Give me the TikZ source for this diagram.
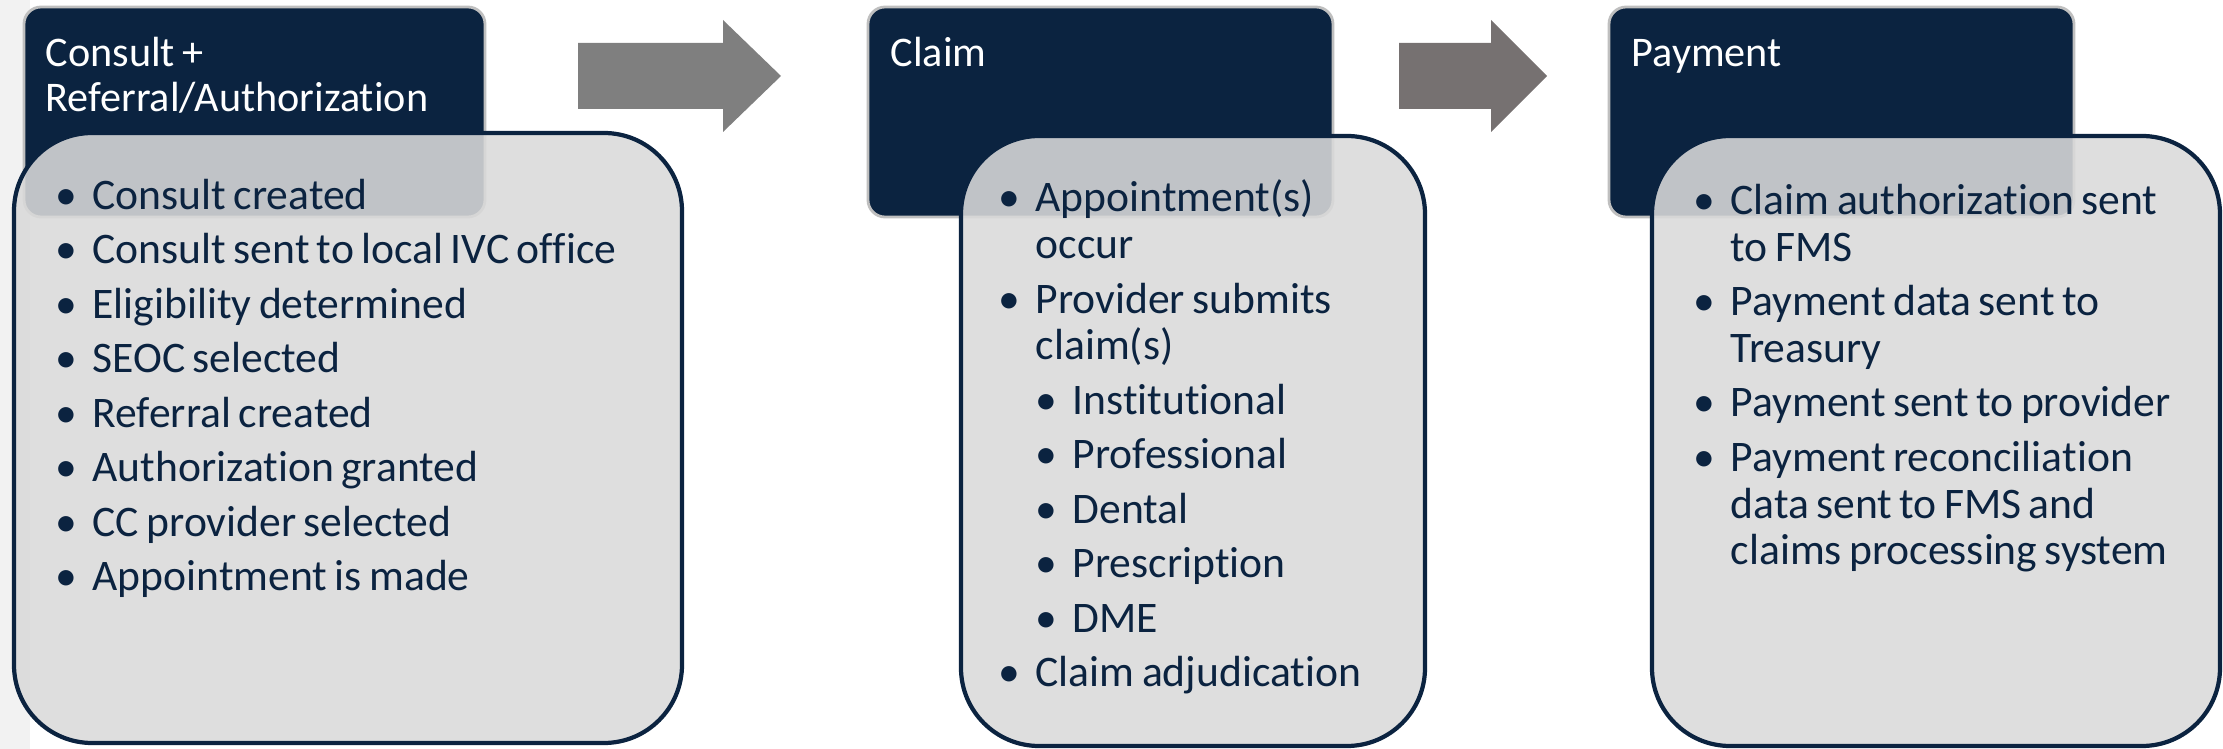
\documentclass[tikz,border=0pt]{standalone}
\usepackage{fontspec}
\setmainfont{Carlito}[WordSpace=0.75, Ligatures=NoCommon]
\usepackage{xcolor}
\usepackage{tikz}

\definecolor{navy}{RGB}{11,35,64}
\definecolor{boxgray}{RGB}{218,218,218}
\definecolor{rimgray}{RGB}{191,191,191}
\definecolor{arrowgray}{RGB}{127,127,127}
\definecolor{arrowwarm}{RGB}{118,113,113}
\definecolor{stripgray}{RGB}{242,242,242}

\newcommand{\bul}{\makebox[0.37cm][l]{\textbullet}}
\newcommand{\subbul}{\hspace*{0.37cm}\makebox[0.37cm][l]{\textbullet}}
\newcommand{\wrapind}{\hspace*{0.37cm}}
\newcommand{\gap}{2.2pt}

\begin{document}
\begin{tikzpicture}[x=0.01cm, y=-0.01cm,
		head/.style={fill=navy, draw=rimgray, line width=0.8pt, rounded corners=0.17cm},
		body/.style={fill=boxgray, fill opacity=0.88, draw=navy, draw opacity=1, line width=1.2pt, rounded corners=0.78cm},
		title/.style={anchor=base west, align=left, inner sep=0pt, text=white, font=\fontsize{12pt}{12.8pt}\selectfont},
		items/.style={anchor=base west, align=left, inner sep=0pt, text=navy, font=\fontsize{12.4pt}{13.3pt}\selectfont}]
	    \useasboundingbox (0,0) rectangle (2223,749);
	    \fill[stripgray] (0,0) rectangle (30,749);
	    \foreach \xa/\xb in {24/485, 868/1333, 1609/2074} {
	      \draw[head] (\xa,7) rectangle (\xb,217);
	    }
	    \fill[arrowgray] (578,43) -- (723,43) -- (723,20) -- (781,76) -- (723,132) -- (723,109) -- (578,109) -- cycle;
	    \fill[arrowwarm] (1399,43) -- (1491,43) -- (1491,20) -- (1547,76) -- (1491,132) -- (1491,109) -- (1399,109) -- cycle;
	    % base of a multi-line node = its last line
	    \node[title] (consult) at (45,112) {Consult +\\Referral/Authorization};
	    \node[title] (claim) at (890,67) {Claim};
	    \node[title] (payment) at (1631,67) {Payment};
	    \foreach \xa/\ya/\xb/\yb in {14/133/682/743, 961/136/1425/746, 1652/136/2220/746} {
	      \draw[body] (\xa,\ya) rectangle (\xb,\yb);
	    }
	    \node[items] (consultlist) at (55,591) {\bul Consult created\\[\gap]
	      \bul Consult sent to local IVC office\\[\gap]
	      \bul Eligibility determined\\[\gap]
	      \bul SEOC selected\\[\gap]
	      \bul Referral created\\[\gap]
	      \bul Authorization granted\\[\gap]
	      \bul CC provider selected\\[\gap]
	      \bul Appointment is made};
	    \node[items] (claimlist) at (998,687) {\bul Appointment(s)\\
	      \wrapind occur\\[\gap]
	      \bul Provider submits\\
	      \wrapind claim(s)\\[\gap]
	      \subbul Institutional\\[\gap]
	      \subbul Professional\\[\gap]
	      \subbul Dental\\[\gap]
	      \subbul Prescription\\[\gap]
	      \subbul DME\\[\gap]
	      \bul Claim adjudication};
	    \node[items] (paymentlist) at (1693,565) {\bul Claim authorization sent\\
	      \wrapind to FMS\\[\gap]
	      \bul Payment data sent to\\
	      \wrapind Treasury\\[\gap]
	      \bul Payment sent to provider\\[\gap]
	      \bul Payment reconciliation\\
	      \wrapind data sent to FMS and\\
	      \wrapind claims processing system};
	  \end{tikzpicture}
\end{document}
